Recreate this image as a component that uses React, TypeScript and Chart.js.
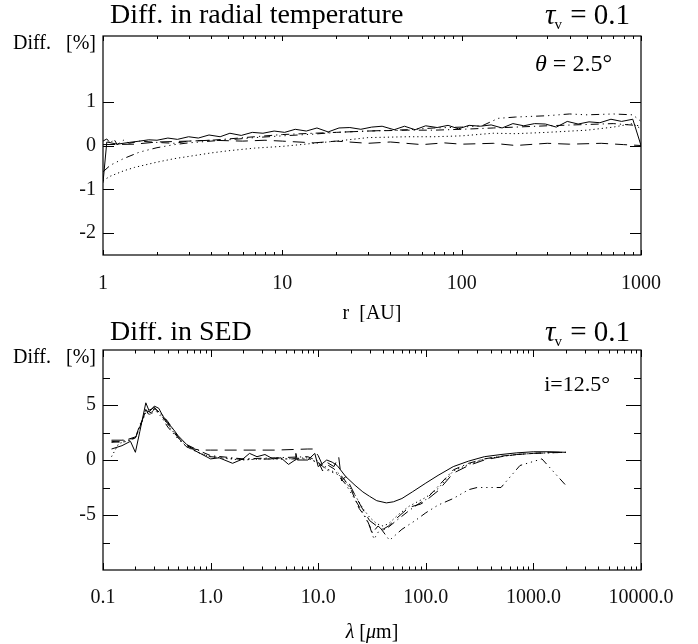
import React, { useEffect, useRef } from "react";
import { Chart, registerables } from "chart.js";
Chart.register(...registerables);

const SERIF = "'Liberation Serif', 'Times New Roman', serif";

// ---------- Top panel: Diff. in radial temperature ----------
const topXTicks = [1, 10, 100, 1000];
const topXLabels = ["1", "10", "100", "1000"];
const topYTicks = [-2, -1, 0, 1];

const rSolid = [1, 1.05, 1.2, 1.4, 1.6, 1.8, 2, 2.3, 2.6, 3, 3.4, 3.9, 4.5, 5.1, 5.9, 6.8, 7.8, 9, 10.3, 11.8, 13.6, 15.6, 18, 20.7, 23.8, 27.4, 31.5, 36, 42, 48, 55, 63, 73, 84, 96, 110, 127, 146, 168, 193, 222, 255, 293, 337, 388, 446, 513, 590, 680, 780, 900, 1000];
const tSolid = [-0.85, 0.08, 0.03, 0.07, 0.1, 0.13, 0.12, 0.17, 0.14, 0.2, 0.17, 0.24, 0.2, 0.28, 0.23, 0.3, 0.28, 0.33, 0.3, 0.37, 0.33, 0.4, 0.31, 0.4, 0.41, 0.37, 0.42, 0.44, 0.36, 0.44, 0.36, 0.45, 0.41, 0.46, 0.38, 0.46, 0.44, 0.47, 0.4, 0.5, 0.45, 0.5, 0.49, 0.42, 0.55, 0.49, 0.54, 0.52, 0.6, 0.55, 0.6, 0.0];

const rDashed = [1, 1.5, 2, 3, 4, 6, 8, 10, 15, 20, 30, 40, 60, 80, 100, 150, 200, 300, 400, 600, 800, 1000];
const tDashed = [0.02, 0.03, 0.08, 0.1, 0.12, 0.1, 0.12, 0.1, 0.06, 0.1, 0.05, 0.08, 0.02, 0.06, 0.03, 0.05, 0.0, 0.05, 0.03, 0.05, 0.02, 0.0];

const rDotted = [1, 1.1, 1.3, 1.5, 2, 2.5, 3, 4, 5, 7, 10, 15, 20, 30, 50, 70, 100, 150, 200, 300, 500, 700, 900, 1000];
const tDotted = [-0.8, -0.7, -0.58, -0.5, -0.38, -0.3, -0.25, -0.17, -0.12, -0.06, -0.02, 0.05, 0.1, 0.18, 0.2, 0.2, 0.22, 0.28, 0.27, 0.3, 0.35, 0.42, 0.5, 0.38];

const rDash3Dot = [1, 1.1, 1.3, 1.6, 2, 2.5, 3, 4, 5, 7, 10, 15, 20, 30, 50, 70, 100, 130, 160, 200, 300, 400, 500, 700, 900, 1000];
const tDash3Dot = [-0.6, -0.45, -0.3, -0.15, -0.05, 0.02, 0.06, 0.1, 0.13, 0.18, 0.22, 0.26, 0.3, 0.33, 0.36, 0.4, 0.42, 0.45, 0.62, 0.65, 0.68, 0.72, 0.7, 0.72, 0.7, 0.55];

const rDashDot = [1, 1.05, 1.1, 1.15, 1.2, 1.3, 1.4, 1.6, 2, 2.5, 3, 4, 5, 7, 10, 15, 20, 30, 50, 70, 100, 150, 200, 300, 500, 700, 1000];
const tDashDot = [0.1, 0.15, 0.05, 0.15, 0.02, 0.12, 0.05, 0.1, 0.07, 0.05, 0.1, 0.12, 0.15, 0.2, 0.25, 0.28, 0.3, 0.33, 0.35, 0.35, 0.37, 0.4, 0.42, 0.45, 0.48, 0.5, 0.45];

// ---------- Bottom panel: Diff. in SED ----------
const botXTicks = [0.1, 1, 10, 100, 1000, 10000];
const botXLabels = ["0.1", "1.0", "10.0", "100.0", "1000.0", "10000.0"];
const botYTicks = [-5, 0, 5];

const lSolid = [0.12, 0.15, 0.18, 0.2, 0.22, 0.25, 0.27, 0.3, 0.33, 0.36, 0.4, 0.45, 0.5, 0.6, 0.7, 0.8, 1.0, 1.2, 1.6, 2.0, 2.3, 2.7, 3.2, 3.8, 4.5, 5.3, 6.1, 6.2, 6.4, 8, 9.3, 10, 11, 12, 13.5, 15, 18, 22, 26, 30, 35, 43, 50, 60, 75, 100, 130, 180, 250, 350, 500, 700, 1000, 1400, 2000];
const sSolid = [1.0, 1.3, 1.7, 0.7, 2.6, 5.2, 4.4, 4.9, 4.7, 4.0, 3.4, 2.8, 2.2, 1.4, 0.9, 0.6, 0.1, 0.2, -0.3, 0.1, 0.6, 0.3, 0.5, 0.1, 0.2, -0.4, 0.0, 0.6, 0.0, 0.0, 0.6, -0.6, -0.3, 0.0, -0.2, -0.5, -1.5, -2.3, -2.9, -3.3, -3.7, -3.9, -3.8, -3.5, -2.9, -2.1, -1.4, -0.6, -0.1, 0.3, 0.5, 0.65, 0.75, 0.75, 0.7];

const lDashed = [0.12, 0.15, 0.18, 0.2, 0.22, 0.25, 0.28, 0.3, 0.35, 0.4, 0.5, 0.6, 0.7, 0.8, 1.0, 2, 4, 8, 9, 10, 11, 12, 14, 15.5, 16.5, 18, 22, 26, 30, 35, 40, 45, 55, 70, 90, 100, 130, 180, 250, 350, 500, 700, 1000, 1400, 2000];
const sDashed = [1.8, 1.8, 1.9, 2.0, 3.0, 4.5, 4.6, 4.8, 4.0, 3.3, 2.0, 1.3, 1.0, 0.9, 0.9, 0.9, 0.9, 1.0, 1.0, 0.4, -0.5, -0.2, -0.6, 0.3, -1.9, -1.5, -3.2, -4.5, -5.5, -6.0, -6.3, -6.0, -5.2, -4.3, -4.0, -3.7, -2.8, -1.2, -0.5, 0.0, 0.3, 0.5, 0.6, 0.7, 0.7];

const lDotted = [0.12, 0.14, 0.18, 0.2, 0.22, 0.25, 0.28, 0.3, 0.35, 0.4, 0.5, 0.6, 0.8, 1, 1.5, 2, 3, 5, 8, 10, 12, 15, 18, 22, 26, 30, 35, 40, 45, 55, 70, 100, 130, 180, 250, 350, 500, 700, 1000, 1400, 2000];
const sDotted = [0.3, 1.5, 1.8, 2.0, 3.0, 4.3, 4.1, 4.6, 4.1, 3.2, 2.0, 1.2, 0.6, 0.3, 0.1, 0.0, 0.1, 0.1, 0.2, -0.3, -0.8, -1.2, -2.0, -3.2, -4.4, -5.2, -5.8, -6.0, -5.8, -5.0, -4.2, -3.4, -2.6, -1.0, -0.4, 0.1, 0.3, 0.5, 0.6, 0.65, 0.7];

const lDashDot = [0.12, 0.15, 0.2, 0.22, 0.25, 0.27, 0.3, 0.35, 0.4, 0.5, 0.6, 0.8, 1, 2, 4, 8, 10, 11, 12, 14, 17, 20, 24, 28, 32, 36, 40, 45, 55, 70, 85, 100, 130, 180, 250, 350, 500, 700, 1000, 1400, 2000];
const sDashDot = [1.6, 1.7, 2.1, 3.0, 4.6, 4.0, 4.7, 4.2, 3.5, 2.1, 1.4, 0.8, 0.4, 0.1, 0.2, 0.3, -0.1, -1.0, -0.4, -0.8, -1.6, -2.6, -4.4, -5.3, -6.6, -6.0, -6.4, -6.1, -5.4, -4.6, -4.0, -3.6, -2.4, -0.9, -0.3, 0.1, 0.35, 0.5, 0.6, 0.65, 0.7];

const lDash3Dot = [0.12, 0.15, 0.2, 0.22, 0.25, 0.28, 0.3, 0.35, 0.4, 0.5, 0.6, 0.8, 1, 2, 4, 8, 10, 12, 15, 18, 22, 26, 30, 33, 38, 46, 60, 80, 100, 130, 180, 250, 300, 500, 750, 1200, 2000];
const sDash3Dot = [1.7, 1.6, 2.0, 3.2, 4.5, 4.3, 4.6, 3.9, 3.0, 1.9, 1.2, 0.6, 0.3, 0.05, 0.1, 0.1, -0.2, -0.9, -1.3, -2.2, -3.6, -4.8, -6.0, -7.2, -6.2, -7.3, -6.3, -5.5, -4.8, -4.1, -3.5, -2.7, -2.5, -2.5, -0.5, 0.1, -2.3];

// ---------- helpers ----------
const DOT = [1.2, 3];
const DASH = [12, 7];
const DASHDOT = [8, 4, 1.2, 4];
const DASH3DOT = [8, 4, 1.2, 4, 1.2, 4, 1.2, 4];

function series(xs: number[], ys: number[], dash: number[]) {
  return {
    data: xs.map((x, i) => ({ x, y: ys[i] })),
    borderColor: "#000",
    borderWidth: 1,
    borderDash: dash,
    pointRadius: 0,
    tension: 0,
    fill: false,
  };
}

function drawTau(ctx: CanvasRenderingContext2D, y: number) {
  ctx.textBaseline = "middle";
  const right = 630;
  ctx.font = `29px ${SERIF}`;
  const rest = " = 0.1";
  const wr = ctx.measureText(rest).width;
  ctx.textAlign = "left";
  ctx.fillText(rest, right - wr, y);
  ctx.font = `15px ${SERIF}`;
  const wv = ctx.measureText("v").width;
  const xv = right - wr - wv - 1;
  ctx.fillText("v", xv, y + 9);
  ctx.font = `italic 29px ${SERIF}`;
  const wt = ctx.measureText("\u03c4").width;
  ctx.fillText("\u03c4", xv - wt + 1, y);
}

type PanelCfg = {
  xMajorLen: number;
  xMinorLen: number;
  yMajor: number[];
  yMinor: number[];
  yMajorLen: number;
  yMinorLen: number;
  text: (ctx: CanvasRenderingContext2D, area: any) => void;
};

function framePlugin(cfg: PanelCfg) {
  return {
    id: "frame",
    afterDraw(chart: any) {
      const { ctx, chartArea: a, scales } = chart;
      const xs = scales.x;
      const ys = scales.y;
      ctx.save();
      ctx.strokeStyle = "#000";
      ctx.lineWidth = 1.2;
      ctx.strokeRect(a.left, a.top, a.right - a.left, a.bottom - a.top);
      ctx.lineWidth = 1;
      const seg = (x1: number, y1: number, x2: number, y2: number) => {
        ctx.beginPath();
        ctx.moveTo(x1, y1);
        ctx.lineTo(x2, y2);
        ctx.stroke();
      };
      const e0 = Math.floor(Math.log10(xs.min) + 1e-9);
      const e1 = Math.ceil(Math.log10(xs.max) - 1e-9);
      for (let e = e0; e <= e1; e++) {
        for (let k = 1; k <= 9; k++) {
          const v = k * Math.pow(10, e);
          if (v < xs.min * 0.999 || v > xs.max * 1.001) continue;
          const px = Math.round(xs.getPixelForValue(v)) + 0.5;
          const len = k === 1 ? cfg.xMajorLen : cfg.xMinorLen;
          seg(px, a.bottom, px, a.bottom - len);
          seg(px, a.top, px, a.top + len);
        }
      }
      const yt = (vals: number[], len: number) => {
        vals.forEach((v) => {
          const py = Math.round(ys.getPixelForValue(v)) + 0.5;
          seg(a.left, py, a.left + len, py);
          seg(a.right, py, a.right - len, py);
        });
      };
      yt(cfg.yMajor, cfg.yMajorLen);
      yt(cfg.yMinor, cfg.yMinorLen);
      ctx.fillStyle = "#000";
      cfg.text(ctx, a);
      ctx.restore();
    },
  };
}

function makeConfig(
  datasets: any[],
  xmin: number,
  xmax: number,
  ymin: number,
  ymax: number,
  xTicks: number[],
  xLabels: string[],
  yTicks: number[],
  padTop: number,
  xAxisH: number,
  xPad: number,
  plugin: any
) {
  const font = { family: SERIF, size: 20 };
  return {
    type: "line",
    data: { datasets },
    options: {
      animation: false,
      responsive: false,
      parsing: false,
      normalized: true,
      layout: { padding: { top: padTop, right: 57, left: 0, bottom: 0 } },
      plugins: { legend: { display: false }, tooltip: { enabled: false }, title: { display: false } },
      scales: {
        x: {
          type: "logarithmic",
          min: xmin,
          max: xmax,
          grid: { display: false, drawTicks: false },
          border: { display: false },
          ticks: {
            font,
            color: "#111",
            padding: xPad,
            maxRotation: 0,
            minRotation: 0,
            autoSkip: false,
            callback: (v: number) => {
              const i = xTicks.findIndex((t) => Math.abs(t - v) / t < 1e-6);
              return i >= 0 ? xLabels[i] : "";
            },
          },
          afterBuildTicks: (s: any) => {
            s.ticks = xTicks.map((v) => ({ value: v }));
          },
          afterFit: (s: any) => {
            s.height = xAxisH;
          },
        },
        y: {
          type: "linear",
          min: ymin,
          max: ymax,
          grid: { display: false, drawTicks: false },
          border: { display: false },
          ticks: {
            font,
            color: "#111",
            padding: 7,
            callback: (v: number) => (v < 0 ? "-" + Math.abs(v) : String(v)),
          },
          afterBuildTicks: (s: any) => {
            s.ticks = yTicks.map((v) => ({ value: v }));
          },
          afterFit: (s: any) => {
            s.width = 103;
          },
        },
      },
    },
    plugins: [plugin],
  };
}

export default function App() {
  const topRef = useRef<HTMLCanvasElement>(null);
  const botRef = useRef<HTMLCanvasElement>(null);

  useEffect(() => {
    const topPlugin = framePlugin({
      xMajorLen: 5,
      xMinorLen: 3,
      yMajor: topYTicks,
      yMinor: [],
      yMajorLen: 11,
      yMinorLen: 0,
      text: (ctx, a) => {
        ctx.textBaseline = "middle";
        ctx.textAlign = "left";
        ctx.font = `28px ${SERIF}`;
        ctx.fillText("Diff. in radial temperature", 110, 16);
        drawTau(ctx, 16);
        ctx.font = `20px ${SERIF}`;
        ctx.fillText("Diff.", 13, 44);
        ctx.textAlign = "right";
        ctx.fillText("[%]", 96, 44);
        // theta label
        ctx.font = `24px ${SERIF}`;
        const rest = " = 2.5\u00b0";
        const wr = ctx.measureText(rest).width;
        ctx.fillText(rest, 612, 65);
        ctx.font = `italic 24px ${SERIF}`;
        ctx.fillText("\u03b8", 612 - wr, 65);
        ctx.textAlign = "center";
        ctx.font = `20px ${SERIF}`;
        ctx.fillText("r  [AU]", (a.left + a.right) / 2, 314);
      },
    });
    const botPlugin = framePlugin({
      xMajorLen: 7,
      xMinorLen: 3.5,
      yMajor: botYTicks,
      yMinor: [-7.5, -2.5, 2.5, 7.5],
      yMajorLen: 15,
      yMinorLen: 7,
      text: (ctx, a) => {
        ctx.textBaseline = "middle";
        ctx.textAlign = "left";
        ctx.font = `28px ${SERIF}`;
        ctx.fillText("Diff. in SED", 110, 11);
        drawTau(ctx, 11);
        ctx.font = `20px ${SERIF}`;
        ctx.fillText("Diff.", 13, 36);
        ctx.textAlign = "right";
        ctx.fillText("[%]", 96, 36);
        ctx.font = `22px ${SERIF}`;
        ctx.fillText("i=12.5\u00b0", 610, 63);
        // lambda label
        const cx = (a.left + a.right) / 2;
        const parts: [string, string][] = [
          ["\u03bb", `italic 20px ${SERIF}`],
          [" [", `20px ${SERIF}`],
          ["\u03bc", `italic 20px ${SERIF}`],
          ["m]", `20px ${SERIF}`],
        ];
        let tot = 0;
        parts.forEach(([t, f]) => {
          ctx.font = f;
          tot += ctx.measureText(t).width;
        });
        let x = cx - tot / 2;
        ctx.textAlign = "left";
        parts.forEach(([t, f]) => {
          ctx.font = f;
          ctx.fillText(t, x, 311);
          x += ctx.measureText(t).width;
        });
      },
    });

    const top = new Chart(
      topRef.current as HTMLCanvasElement,
      makeConfig(
        [
          series(rSolid, tSolid, []),
          series(rDashed, tDashed, DASH),
          series(rDotted, tDotted, DOT),
          series(rDash3Dot, tDash3Dot, DASH3DOT),
          series(rDashDot, tDashDot, DASHDOT),
        ],
        1,
        1000,
        -2.5,
        2.5,
        topXTicks,
        topXLabels,
        topYTicks,
        36,
        67,
        17,
        topPlugin
      ) as any
    );
    const bot = new Chart(
      botRef.current as HTMLCanvasElement,
      makeConfig(
        [
          series(lSolid, sSolid, []),
          series(lDashed, sDashed, DASH),
          series(lDotted, sDotted, DOT),
          series(lDashDot, sDashDot, DASHDOT),
          series(lDash3Dot, sDash3Dot, DASH3DOT),
        ],
        0.1,
        10000,
        -10,
        10,
        botXTicks,
        botXLabels,
        botYTicks,
        28,
        74,
        16,
        botPlugin
      ) as any
    );
    return () => {
      top.destroy();
      bot.destroy();
    };
  }, []);

  return (
    <div style={{ position: "absolute", left: 0, top: 0, width: 698, height: 644, background: "#fff" }}>
      <canvas ref={topRef} width={698} height={322} style={{ position: "absolute", left: 0, top: 0, width: 698, height: 322 }} />
      <canvas ref={botRef} width={698} height={322} style={{ position: "absolute", left: 0, top: 322, width: 698, height: 322 }} />
    </div>
  );
}
